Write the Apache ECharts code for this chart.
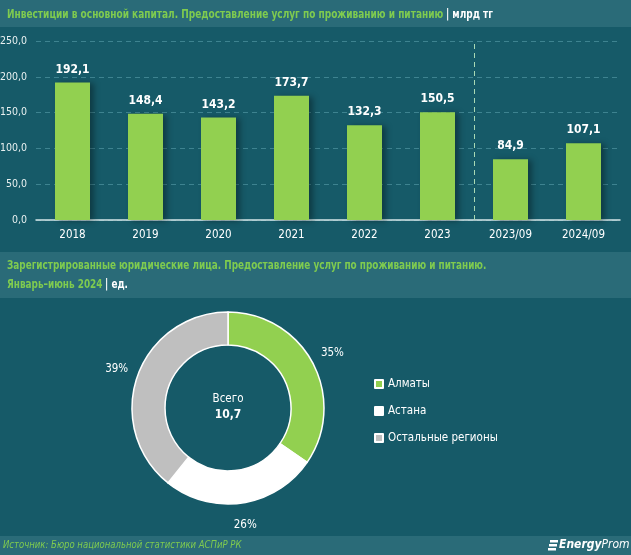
<!DOCTYPE html>
<html>
<head>
<meta charset="utf-8">
<script src="https://cdn.jsdelivr.net/npm/echarts@6/dist/echarts.min.js"></script>
<style>
html,body{margin:0;padding:0;background:#165a68;}
#chart{width:631px;height:555px;}
</style>
</head>
<body>
<div id="chart"></div>
<script>
var categories = ['2018','2019','2020','2021','2022','2023','2023/09','2024/09'];
var investValues = [192.1, 148.4, 143.2, 173.7, 132.3, 150.5, 84.9, 107.1];
var yTicks = [0, 50, 100, 150, 200, 250];
var separatorIndex = 6;
var regionNames = ['Алматы', 'Астана', 'Остальные регионы'];
var regionCounts = [3.7, 2.8, 4.2];
var regionColors = ['#92d050', '#ffffff', '#bfbfbf'];

var FONT = '"DejaVu Sans Condensed", "Open Sans", sans-serif';
var GREEN_TXT = '#7fcb4f';
var fmt1 = function (v) { return v.toFixed(1).replace('.', ','); };
var total = regionCounts.reduce(function (a, b) { return a + b; }, 0);

var titleRich = {
  g: {fill: GREEN_TXT, fontSize: 12.5, fontWeight: 'bold', fontFamily: FONT, lineHeight: 19},
  w: {fill: '#ffffff', fontSize: 12.5, fontWeight: 'bold', fontFamily: FONT, lineHeight: 19}
};

var chart = echarts.init(document.getElementById('chart'), null, {renderer: 'canvas'});
var option = {
  backgroundColor: '#165a68',
  textStyle: {fontFamily: FONT},
  animation: false,
  graphic: [
    {type: 'rect', left: 0, top: 0, shape: {width: 631, height: 27}, style: {fill: '#2a6b78'}, z: -10},
    {type: 'rect', left: 0, top: 252, shape: {width: 631, height: 46}, style: {fill: '#2a6b78'}, z: -10},
    {type: 'rect', left: 0, top: 536, shape: {width: 631, height: 19}, style: {fill: '#2a6b78'}, z: -10},
    {type: 'text', x: 7, y: 5, scaleX: 0.8,
      style: {rich: titleRich, text: '{g|Инвестиции в основной капитал. Предоставление услуг по проживанию и питанию} {w|| млрд тг}'}},
    {type: 'text', x: 7, y: 256, scaleX: 0.79,
      style: {rich: titleRich, text: '{g|Зарегистрированные юридические лица. Предоставление услуг по проживанию и питанию.}\n{g|Январь–июнь 2024} {w|| ед.}'}},
    {type: 'text', x: 3, y: 540, scaleX: 0.86,
      style: {text: 'Источник: Бюро национальной статистики АСПиР РК', fill: GREEN_TXT, font: 'italic 11px ' + FONT}},
    {type: 'text', x: 228, y: 393, style: {text: 'Всего', fill: '#ffffff', font: '11.5px ' + FONT, textAlign: 'center'}},
    {type: 'text', x: 228, y: 409, style: {text: fmt1(total), fill: '#ffffff', font: 'bold 12px ' + FONT, textAlign: 'center'}},
    {type: 'group', left: 548, top: 539, children: [
      {type: 'rect', x: 2, y: 0, shape: {width: 8, height: 2.5}, style: {fill: '#ffffff'}},
      {type: 'rect', x: 1, y: 4, shape: {width: 8, height: 2.5}, style: {fill: '#ffffff'}},
      {type: 'rect', x: 0, y: 8, shape: {width: 8, height: 2.5}, style: {fill: '#ffffff'}},
      {type: 'text', x: 11, y: -1, style: {rich: {b: {fontWeight: 'bold', fontStyle: 'italic', fill: '#ffffff', fontSize: 12, fontFamily: FONT}, n: {fontStyle: 'italic', fill: '#ffffff', fontSize: 12, fontFamily: FONT}}, text: '{b|Energy}{n|Prom}'}}
    ]}
  ],
  legend: {
    orient: 'vertical',
    left: 369, top: 373,
    itemWidth: 8, itemHeight: 8, itemGap: 15,
    icon: 'rect',
    textStyle: {color: '#ffffff', fontSize: 11.5, fontFamily: FONT},
    data: regionNames.map(function (n, i) { return {name: n, itemStyle: {color: regionColors[i], opacity: 1}}; })
  },
  grid: {left: 36, right: 11, top: 41, bottom: 335, containLabel: false, outerBoundsMode: 'none'},
  xAxis: [
    {
      type: 'category',
      data: categories,
      axisLine: {lineStyle: {color: '#d5e6e8', width: 1.5}},
      axisTick: {show: false},
      axisLabel: {color: '#ffffff', fontSize: 11.5, margin: 9, fontFamily: FONT},
      splitLine: {show: false}
    },
    {
      type: 'value',
      min: 0, max: categories.length,
      show: false,
      splitLine: {show: false}
    }
  ],
  yAxis: {
    type: 'value',
    min: yTicks[0], max: yTicks[yTicks.length - 1], interval: yTicks[1] - yTicks[0],
    axisLine: {show: false},
    axisTick: {show: false},
    axisLabel: {color: '#e8f0f0', fontSize: 10.5, margin: 9, fontFamily: FONT, formatter: function (v) { return fmt1(v); }},
    splitLine: {lineStyle: {color: '#3e8390', type: [5, 4], width: 1}}
  },
  series: [
    {
      type: 'bar',
      data: investValues,
      barWidth: 35,
      itemStyle: {color: '#92d050', shadowColor: 'rgba(0,0,0,0.35)', shadowBlur: 6, shadowOffsetX: 4, shadowOffsetY: 1},
      label: {show: true, position: 'top', distance: 7, color: '#ffffff', fontSize: 12, fontWeight: 'bold', fontFamily: FONT, formatter: function (p) { return fmt1(p.value); }}
    },
    {
      type: 'line',
      xAxisIndex: 1,
      data: [],
      markLine: {
        silent: true,
        symbol: 'none',
        label: {show: false},
        lineStyle: {color: '#a9d9b4', type: [5, 4], width: 1},
        data: [{xAxis: separatorIndex}]
      }
    },
    {
      type: 'pie',
      center: [228, 408],
      radius: [63, 96],
      startAngle: 90,
      clockwise: true,
      data: regionNames.map(function (n, i) { return {name: n, value: regionCounts[i], itemStyle: {color: regionColors[i]}}; }),
      itemStyle: {borderColor: '#ffffff', borderWidth: 1.5},
      label: {show: false},
      labelLine: {show: false},
      emphasis: {disabled: true}
    },
    {
      type: 'pie',
      center: [228, 408],
      radius: [96, 134],
      startAngle: 90,
      clockwise: true,
      silent: true,
      data: regionNames.map(function (n, i) { return {name: n, value: regionCounts[i]}; }),
      itemStyle: {color: 'rgba(0,0,0,0)'},
      label: {show: true, position: 'inside', color: '#ffffff', fontSize: 11.5, fontFamily: FONT,
        formatter: function (p) { return Math.round(p.percent) + '%'; }},
      labelLine: {show: false},
      emphasis: {disabled: true}
    }
  ]
};
chart.setOption(option);
</script>
</body>
</html>
